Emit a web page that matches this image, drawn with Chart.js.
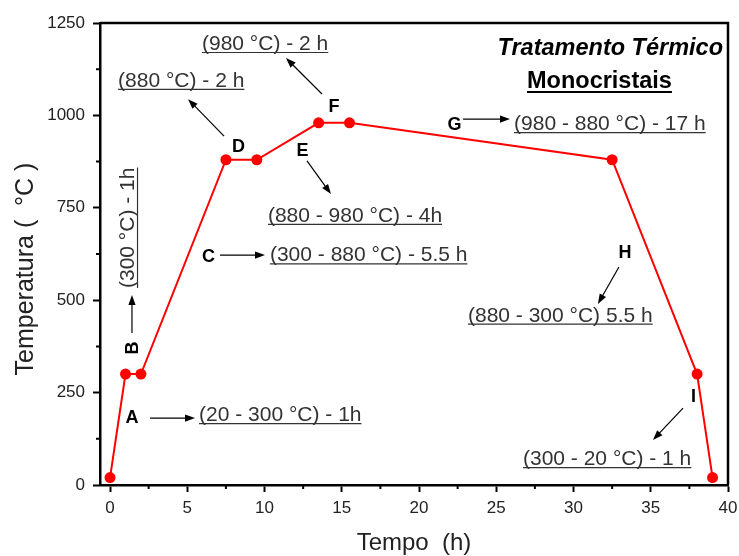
<!DOCTYPE html>
<html>
<head>
<meta charset="utf-8">
<script src="https://cdn.jsdelivr.net/npm/chart.js@4"></script>
<style>
  html, body { margin: 0; padding: 0; background: #fff; }
  canvas { display: block; }
</style>
</head>
<body>
<canvas id="c" width="739" height="556"></canvas>
<script>
// Heat-treatment cycle: time (h) and furnace temperature (°C) at each step
const hours = [0, 1, 2, 7.5, 9.5, 13.5, 15.5, 32.5, 38, 39];
const temps = [20, 300, 300, 880, 880, 980, 980, 880, 300, 20];

// Axis ticks
const xTicks = [0, 5, 10, 15, 20, 25, 30, 35, 40];
const yTicks = [0, 250, 500, 750, 1000, 1250];
const xMinor = [2.5, 7.5, 12.5, 17.5, 22.5, 27.5, 32.5, 37.5];
const yMinor = [125, 375, 625, 875, 1125];

// Stage letters and their descriptions
const stageLetters = ['A', 'B', 'C', 'D', 'E', 'F', 'G', 'H', 'I'];
const stageNotes = [
  '(20 - 300 °C) - 1h',
  '(300 °C) - 1h',
  '(300 - 880 °C) - 5.5 h',
  '(880 °C) - 2 h',
  '(880 - 980 °C) - 4h',
  '(980 °C) - 2 h',
  '(980 - 880 °C) - 17 h',
  '(880 - 300 °C) 5.5 h',
  '(300 - 20 °C) - 1 h'
];

const titleLines = ['Tratamento Térmico', 'Monocristais'];
const yTitle = 'Temperatura (  °C )';
const xTitle = 'Tempo  (h)';

// Where each stage label goes, in axis units (h, °C)
// letter: centre x / baseline y; note: left x / baseline y; arrow: tail -> head
const stageLayout = [
  { letter: [1.42, 168],  note: [5.76, 173],   arrow: [2.59, 181, 5.50, 181] },
  { letter: [1.81, 371],  note: [1.52, 533],   arrow: [1.42, 411, 1.42, 514], vertical: true },
  { letter: [6.37, 603],  note: [10.35, 605],  arrow: [7.12, 622, 10.03, 622] },
  { letter: [8.32, 901],  note: [0.52, 1077],  arrow: [7.38, 944, 5.05, 1044] },
  { letter: [12.46, 890], note: [10.22, 712],  arrow: [12.75, 877, 14.30, 787] },
  { letter: [14.50, 1009],note: [5.95, 1177],  arrow: [13.72, 1058, 11.39, 1155] },
  { letter: [22.30, 960], note: [26.15, 960],  arrow: [22.85, 990, 25.89, 990] },
  { letter: [33.33, 614], note: [23.17, 442],  arrow: [32.94, 590, 31.58, 490] },
  { letter: [37.77, 225], note: [26.73, 54],   arrow: [37.09, 208, 35.14, 122] }
];
const titleLayout = [[32.38, 1163], [31.68, 1074]];

const FONT = "'Liberation Sans', Arial, Helvetica, sans-serif";
const NOTE_COLOR = '#333';
const AXIS_TEXT = '#222';

function drawArrow(ctx, x1, y1, x2, y2) {
  const a = Math.atan2(y2 - y1, x2 - x1);
  const L = 10, W = 3.6;
  const c = Math.cos(a), s = Math.sin(a);
  ctx.beginPath();
  ctx.moveTo(x1, y1);
  ctx.lineTo(x2 - L * 0.8 * c, y2 - L * 0.8 * s);
  ctx.stroke();
  ctx.beginPath();
  ctx.moveTo(x2, y2);
  ctx.lineTo(x2 - L * c + W * s, y2 - L * s - W * c);
  ctx.lineTo(x2 - L * c - W * s, y2 - L * s + W * c);
  ctx.closePath();
  ctx.fill();
}

function underlinedText(ctx, text, x, y, gap) {
  ctx.fillText(text, x, y);
  const w = ctx.measureText(text).width;
  ctx.beginPath();
  ctx.moveTo(x, y + gap);
  ctx.lineTo(x + w, y + gap);
  ctx.stroke();
}

const decorations = {
  id: 'decorations',
  afterDatasetsDraw(chart) {
    const { ctx, chartArea: a, scales: { x, y } } = chart;
    const X = v => x.getPixelForValue(v);
    const Y = v => y.getPixelForValue(v);
    ctx.save();

    // frame (top and right)
    ctx.strokeStyle = '#000';
    ctx.lineWidth = 2.5;
    ctx.beginPath();
    ctx.moveTo(a.left, a.top);
    ctx.lineTo(a.right, a.top);
    ctx.lineTo(a.right, a.bottom);
    ctx.stroke();

    // minor ticks
    ctx.lineWidth = 2;
    ctx.beginPath();
    xMinor.forEach(v => { const p = X(v); ctx.moveTo(p, a.bottom); ctx.lineTo(p, a.bottom + 4); });
    yMinor.forEach(v => { const p = Y(v); ctx.moveTo(a.left - 4, p); ctx.lineTo(a.left, p); });
    ctx.stroke();

    // y-axis title
    ctx.save();
    ctx.translate(33, 269);
    ctx.rotate(-Math.PI / 2);
    ctx.font = `25px ${FONT}`;
    ctx.fillStyle = AXIS_TEXT;
    ctx.textAlign = 'center';
    ctx.textBaseline = 'alphabetic';
    ctx.fillText(yTitle, 0, 0);
    ctx.restore();

    // stage annotations
    stageLayout.forEach((L, i) => {
      ctx.strokeStyle = '#000';
      ctx.fillStyle = '#000';
      ctx.lineWidth = 1.2;
      drawArrow(ctx, X(L.arrow[0]), Y(L.arrow[1]), X(L.arrow[2]), Y(L.arrow[3]));

      if (L.vertical) {
        ctx.save();
        ctx.translate(X(L.letter[0]), Y(L.letter[1]));
        ctx.rotate(-Math.PI / 2);
        ctx.font = `bold 18px ${FONT}`;
        ctx.textAlign = 'center';
        ctx.textBaseline = 'alphabetic';
        ctx.fillText(stageLetters[i], 0, 0);
        ctx.restore();

        ctx.save();
        ctx.translate(X(L.note[0]), Y(L.note[1]));
        ctx.rotate(-Math.PI / 2);
        ctx.font = `21px ${FONT}`;
        ctx.textAlign = 'left';
        ctx.textBaseline = 'alphabetic';
        ctx.fillStyle = NOTE_COLOR;
        ctx.strokeStyle = NOTE_COLOR;
        ctx.lineWidth = 1.2;
        underlinedText(ctx, stageNotes[i], 0, 0, 4);
        ctx.restore();
      } else {
        ctx.font = `bold 18px ${FONT}`;
        ctx.textAlign = 'center';
        ctx.textBaseline = 'alphabetic';
        ctx.fillText(stageLetters[i], X(L.letter[0]), Y(L.letter[1]));

        ctx.font = `21px ${FONT}`;
        ctx.textAlign = 'left';
        ctx.fillStyle = NOTE_COLOR;
        ctx.strokeStyle = NOTE_COLOR;
        ctx.lineWidth = 1.2;
        underlinedText(ctx, stageNotes[i], X(L.note[0]), Y(L.note[1]), 2.5);
      }
    });

    // title block
    ctx.fillStyle = '#000';
    ctx.strokeStyle = '#000';
    ctx.textAlign = 'center';
    ctx.textBaseline = 'alphabetic';
    ctx.font = `italic bold 23.5px ${FONT}`;
    ctx.fillText(titleLines[0], X(titleLayout[0][0]), Y(titleLayout[0][1]));
    ctx.font = `bold 23.5px ${FONT}`;
    const tx = X(titleLayout[1][0]), ty = Y(titleLayout[1][1]);
    ctx.fillText(titleLines[1], tx, ty);
    const tw = ctx.measureText(titleLines[1]).width;
    ctx.lineWidth = 2;
    ctx.beginPath();
    ctx.moveTo(tx - tw / 2, ty + 4);
    ctx.lineTo(tx + tw / 2, ty + 4);
    ctx.stroke();

    ctx.restore();
  }
};

new Chart(document.getElementById('c'), {
  type: 'scatter',
  data: {
    datasets: [{
      data: hours.map((h, i) => ({ x: h, y: temps[i] })),
      showLine: true,
      borderColor: '#ff0000',
      backgroundColor: '#ff0000',
      borderWidth: 2,
      pointRadius: 5.5,
      pointBorderWidth: 0,
      pointBackgroundColor: '#ff0000',
      pointHoverRadius: 5.5
    }]
  },
  options: {
    responsive: false,
    animation: false,
    devicePixelRatio: 1,
    layout: { padding: { top: 23, right: 11, left: 0, bottom: 0 } },
    plugins: { legend: { display: false }, tooltip: { enabled: false } },
    scales: {
      x: {
        type: 'linear',
        min: -0.65,
        max: 40,
        afterBuildTicks: s => { s.ticks = xTicks.map(v => ({ value: v })); },
        afterFit: s => { s.height = 71; s.paddingLeft = 0; s.paddingRight = 0; },
        ticks: {
          font: { family: FONT, size: 17 },
          color: AXIS_TEXT,
          padding: 6,
          maxRotation: 0,
          callback: v => String(v)
        },
        grid: { drawOnChartArea: false, drawTicks: true, tickLength: 7, tickWidth: 2, tickColor: '#000' },
        border: { display: true, color: '#000', width: 2.5 },
        title: {
          display: true,
          text: xTitle,
          font: { family: FONT, size: 24 },
          color: AXIS_TEXT,
          padding: { top: 0, bottom: -2 }
        }
      },
      y: {
        type: 'linear',
        min: 0,
        max: 1250,
        afterBuildTicks: s => { s.ticks = yTicks.map(v => ({ value: v })); },
        afterFit: s => { s.width = 100; s.paddingTop = 0; s.paddingBottom = 0; },
        ticks: {
          font: { family: FONT, size: 17 },
          color: AXIS_TEXT,
          padding: 8,
          callback: v => String(v)
        },
        grid: { drawOnChartArea: false, drawTicks: true, tickLength: 7, tickWidth: 2, tickColor: '#000' },
        border: { display: true, color: '#000', width: 2.5 }
      }
    }
  },
  plugins: [decorations]
});
</script>
</body>
</html>
